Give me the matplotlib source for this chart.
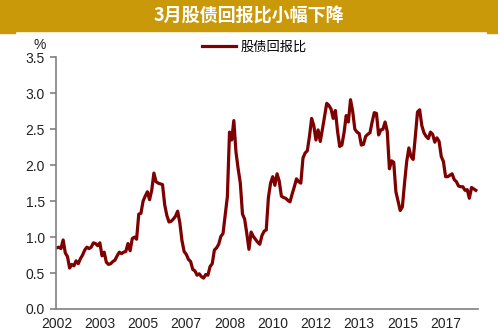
import matplotlib.pyplot as plt
from matplotlib.patches import Rectangle

plt.rcParams['font.family'] = ['Liberation Sans', 'Noto Sans CJK SC', 'DejaVu Sans']

# monthly ratio, 2002-01 .. 2018-03
ratio = [
    0.85, 0.86, 0.84, 0.96, 0.78, 0.73, 0.57, 0.62, 0.60, 0.67,
    0.63, 0.70, 0.75, 0.82, 0.86, 0.84, 0.86, 0.92, 0.91, 0.88,
    0.92, 0.74, 0.79, 0.65, 0.62, 0.63, 0.66, 0.68, 0.74, 0.79,
    0.77, 0.79, 0.80, 0.91, 0.81, 0.98, 1.00, 0.97, 1.32, 1.33,
    1.50, 1.57, 1.63, 1.52, 1.65, 1.89, 1.77, 1.75, 1.74, 1.73,
    1.45, 1.30, 1.21, 1.22, 1.25, 1.29, 1.36, 1.20, 0.95, 0.80,
    0.76, 0.69, 0.66, 0.55, 0.53, 0.47, 0.49, 0.45, 0.43, 0.48,
    0.47, 0.59, 0.63, 0.82, 0.85, 0.90, 1.01, 1.05, 1.30, 1.56,
    2.46, 2.35, 2.62, 2.18, 1.95, 1.75, 1.32, 1.25, 1.05, 0.83,
    1.07, 1.01, 0.97, 0.93, 0.90, 1.02, 1.08, 1.10, 1.55, 1.75,
    1.84, 1.72, 1.88, 1.78, 1.57, 1.55, 1.54, 1.51, 1.49, 1.60,
    1.70, 1.81, 1.77, 1.75, 2.10, 2.17, 2.20, 2.40, 2.65, 2.55,
    2.35, 2.49, 2.33, 2.50, 2.68, 2.86, 2.83, 2.78, 2.65, 2.76,
    2.47, 2.26, 2.28, 2.45, 2.69, 2.60, 2.91, 2.75, 2.50, 2.46,
    2.44, 2.28, 2.29, 2.40, 2.43, 2.45, 2.60, 2.73, 2.72, 2.42,
    2.49, 2.50, 2.60, 2.47, 1.95, 2.06, 2.04, 1.63, 1.50, 1.37,
    1.42, 1.75, 2.05, 2.24, 2.12, 2.08, 2.40, 2.74, 2.77, 2.55,
    2.45, 2.40, 2.37, 2.46, 2.43, 2.32, 2.38, 2.33, 2.12, 2.05,
    1.84, 1.84, 1.86, 1.88, 1.80, 1.77, 1.71, 1.70, 1.70, 1.65,
    1.66, 1.54, 1.69, 1.67, 1.65,
]
tick_pos = [0, 20, 40, 60, 80, 100, 120, 140, 160, 180]
tick_labels = ['2002', '2003', '2005', '2007', '2008',
               '2010', '2012', '2013', '2015', '2017']
y_ticks = [0.0, 0.5, 1.0, 1.5, 2.0, 2.5, 3.0, 3.5]

gold = '#C9990A'
line_red = '#7F0000'

fig = plt.figure(figsize=(4.98, 3.35), dpi=100)

# title banner
fig.patches.append(Rectangle((0, 1 - 31 / 335), 1, 31 / 335,
                             transform=fig.transFigure, color=gold, zorder=0))
fig.patches.append(Rectangle((0, 1 - 33 / 335), 15 / 498, 2 / 335,
                             transform=fig.transFigure, color=gold, zorder=0))
fig.patches.append(Rectangle((487 / 498, 1 - 33 / 335), 11 / 498, 2 / 335,
                             transform=fig.transFigure, color=gold, zorder=0))
fig.text(0.5, 1 - 16 / 335, '3月股债回报比小幅下降', color='white',
         fontsize=13, fontweight='bold', ha='center', va='center',
         family=['Noto Sans CJK SC', 'DejaVu Sans'])

ax = fig.add_axes([56 / 498, 1 - 309 / 335, 422 / 498, (309 - 57.3) / 335])
ax.plot(range(len(ratio)), ratio, color=line_red, lw=2.3,
        solid_joinstyle='round', label='股债回报比')

ax.set_xlim(-0.3, 195)
ax.set_ylim(0, 3.5)
ax.set_yticks(y_ticks)
ax.set_yticklabels([f'{v:.1f}' for v in y_ticks])
ax.set_xticks(tick_pos)
ax.set_xticklabels(tick_labels)
ax.tick_params(axis='x', length=0, pad=6, labelsize=10, colors='#222222')
ax.tick_params(axis='y', length=4, width=1.2, color='#808080', pad=4,
               labelsize=10, labelcolor='#222222')

for side in ('top', 'right'):
    ax.spines[side].set_visible(False)
for side in ('left', 'bottom'):
    ax.spines[side].set_color('#808080')
    ax.spines[side].set_linewidth(1.2)

fig.text(40 / 498, 1 - 45 / 335, '%', fontsize=10, ha='center', va='center',
         color='#222222')

leg = ax.legend(loc='center', bbox_to_anchor=(0.47, 1.04), frameon=False,
                handlelength=2.6, handletextpad=0.3,
                prop={'family': ['Noto Sans CJK SC', 'DejaVu Sans'], 'size': 9.5})

fig.savefig('out.png', dpi=100)
